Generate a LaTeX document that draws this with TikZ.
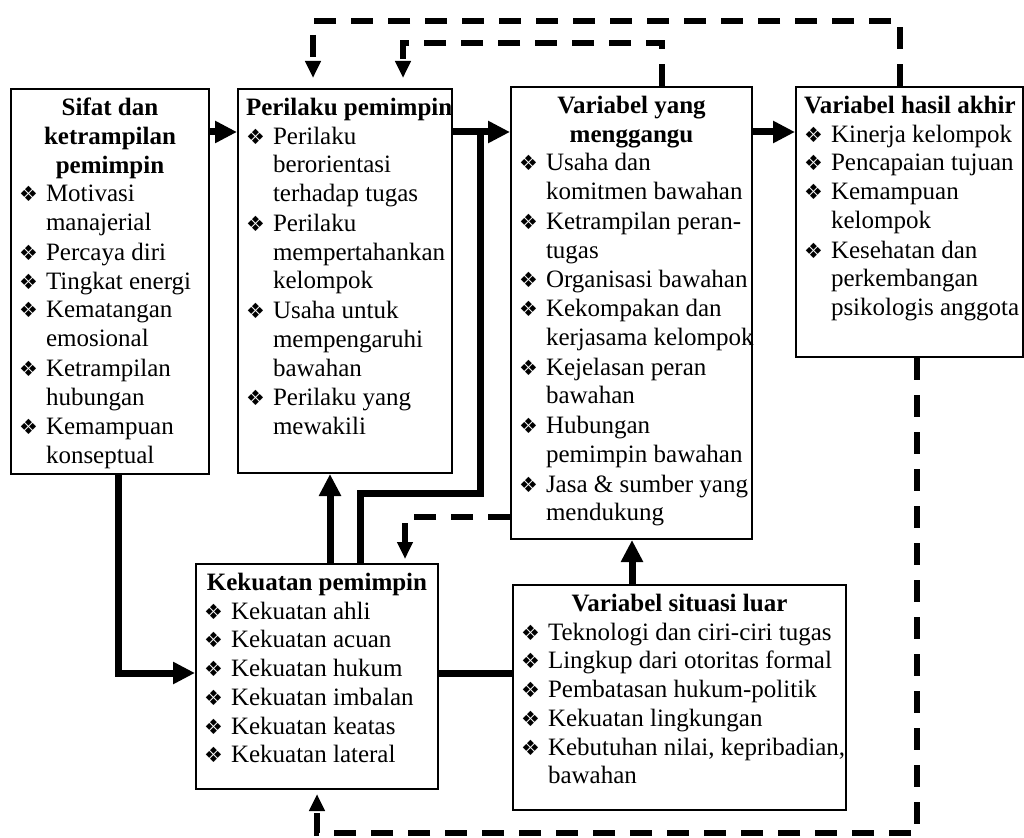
\documentclass[tikz,border=0pt]{standalone}
\usepackage{fontspec}
\setmainfont{Liberation Serif}
\newfontfamily\dingfont{DejaVu Sans}
\usetikzlibrary{arrows.meta}

\newcommand{\butir}[1]{\par\noindent\makebox[27pt][l]{\dingfont\fontsize{21}{21}\selectfont ❖}\begin{tabular}[t]{@{}l@{}}#1\end{tabular}}

\tikzset{
  kotak/.style={draw, line width=2pt, anchor=north west, inner xsep=8pt, inner ysep=9pt,
    font=\fontsize{25}{28.75}\selectfont},
  panah/.style={line width=7pt, -{Triangle[length=22pt,width=21pt]}},
  garis/.style={line width=7pt},
  putus/.style={line width=6pt, dash pattern=on 22pt off 15pt,
    -{Triangle[length=17pt,width=15pt]}, shorten >=4pt}
}

\begin{document}
\begin{tikzpicture}[x=1pt, y=-1pt]
  \useasboundingbox (0,0) rectangle (1024,837);

  \node[kotak] (sifat) at (10,88) {\parbox[c][367pt][t]{182pt}{%
    {\centering\bfseries Sifat dan\\ ketrampilan\\ pemimpin\par}
    \butir{Motivasi\\ manajerial}
    \butir{Percaya diri}
    \butir{Tingkat energi}
    \butir{Kematangan\\ emosional}
    \butir{Ketrampilan\\ hubungan}
    \butir{Kemampuan\\ konseptual}}};
  \node[kotak] (perilaku) at (237,88) {\parbox[c][366pt][t]{198pt}{%
    \noindent\mbox{\bfseries Perilaku pemimpin}\par
    \butir{Perilaku\\ berorientasi\\ terhadap tugas}
    \butir{Perilaku\\ mempertahankan\\ kelompok}
    \butir{Usaha untuk\\ mempengaruhi\\ bawahan}
    \butir{Perilaku yang\\ mewakili}}};
  \node[kotak] (ganggu) at (510,86) {\parbox[c][434pt][t]{225pt}{%
    {\centering\bfseries Variabel yang\\ menggangu\par}
    \butir{Usaha dan\\ komitmen bawahan}
    \butir{Ketrampilan peran-\\ tugas}
    \butir{Organisasi bawahan}
    \butir{Kekompakan dan\\ kerjasama kelompok}
    \butir{Kejelasan peran\\ bawahan}
    \butir{Hubungan\\ pemimpin bawahan}
    \butir{Jasa \& sumber yang\\ mendukung}}};
  \node[kotak] (hasil) at (795,86) {\parbox[c][252pt][t]{211pt}{%
    \noindent\mbox{\bfseries Variabel hasil akhir}\par
    \butir{Kinerja kelompok}
    \butir{Pencapaian tujuan}
    \butir{Kemampuan\\ kelompok}
    \butir{Kesehatan dan\\ perkembangan\\ psikologis anggota}}};
  \node[kotak] (kekuatan) at (195,563) {\parbox[c][207pt][t]{226pt}{%
    {\centering\bfseries Kekuatan pemimpin\par}
    \butir{Kekuatan ahli}
    \butir{Kekuatan acuan}
    \butir{Kekuatan hukum}
    \butir{Kekuatan imbalan}
    \butir{Kekuatan keatas}
    \butir{Kekuatan lateral}}};
  \node[kotak] (situasi) at (512,584) {\parbox[c][207pt][t]{317pt}{%
    {\centering\bfseries Variabel situasi luar\par}
    \butir{Teknologi dan ciri-ciri tugas}
    \butir{Lingkup dari otoritas formal}
    \butir{Pembatasan hukum-politik}
    \butir{Kekuatan lingkungan}
    \butir{Kebutuhan nilai, kepribadian,\\ bawahan}}};

  % titik belok
  \coordinate (baris) at (0,132);
  \coordinate (belokA) at (118,673);
  \coordinate (belokE1) at (360,493);
  \coordinate (belokE2) at (480,493);
  \coordinate (tegakEB) at (330,520);
  \coordinate (tegakFC) at (632,560);
  \coordinate (atasC) at (662,43);
  \coordinate (atasB) at (403,43);
  \coordinate (atasD) at (900,21);
  \coordinate (atasB2) at (313,21);
  \coordinate (kiriC) at (405,517);
  \coordinate (bawahD) at (917,833);
  \coordinate (bawahE) at (317,833);

  \draw[panah] (sifat.east |- baris) -- (perilaku.west |- baris);
  \draw[panah] (perilaku.east |- baris) -- (ganggu.west |- baris);
  \draw[panah] (ganggu.east |- baris) -- (hasil.west |- baris);
  \draw[panah] (belokA |- sifat.south) -- (belokA) -- (kekuatan.west |- belokA);
  \draw[panah] (tegakEB |- kekuatan.north) -- (tegakEB |- perilaku.south);
  \draw[garis] (belokE1 |- kekuatan.north) -- (belokE1) -- (belokE2) -- (belokE2 |- baris);
  \draw[garis] (situasi.west |- belokA) -- (kekuatan.east |- belokA);
  \draw[panah] (tegakFC |- situasi.north) -- (tegakFC |- ganggu.south);

  \draw[putus, shorten >=10pt] (atasC |- ganggu.north) -- (atasC) -- (atasB) -- (atasB |- perilaku.north);
  \draw[putus, shorten >=10pt] (atasD |- hasil.north) -- (atasD) -- (atasB2) -- (atasB2 |- perilaku.north);
  \draw[putus] (ganggu.west |- kiriC) -- (kiriC) -- (kiriC |- kekuatan.north);
  \draw[putus] (bawahD |- hasil.south) -- (bawahD) -- (bawahE) -- (bawahE |- kekuatan.south);
\end{tikzpicture}
\end{document}
